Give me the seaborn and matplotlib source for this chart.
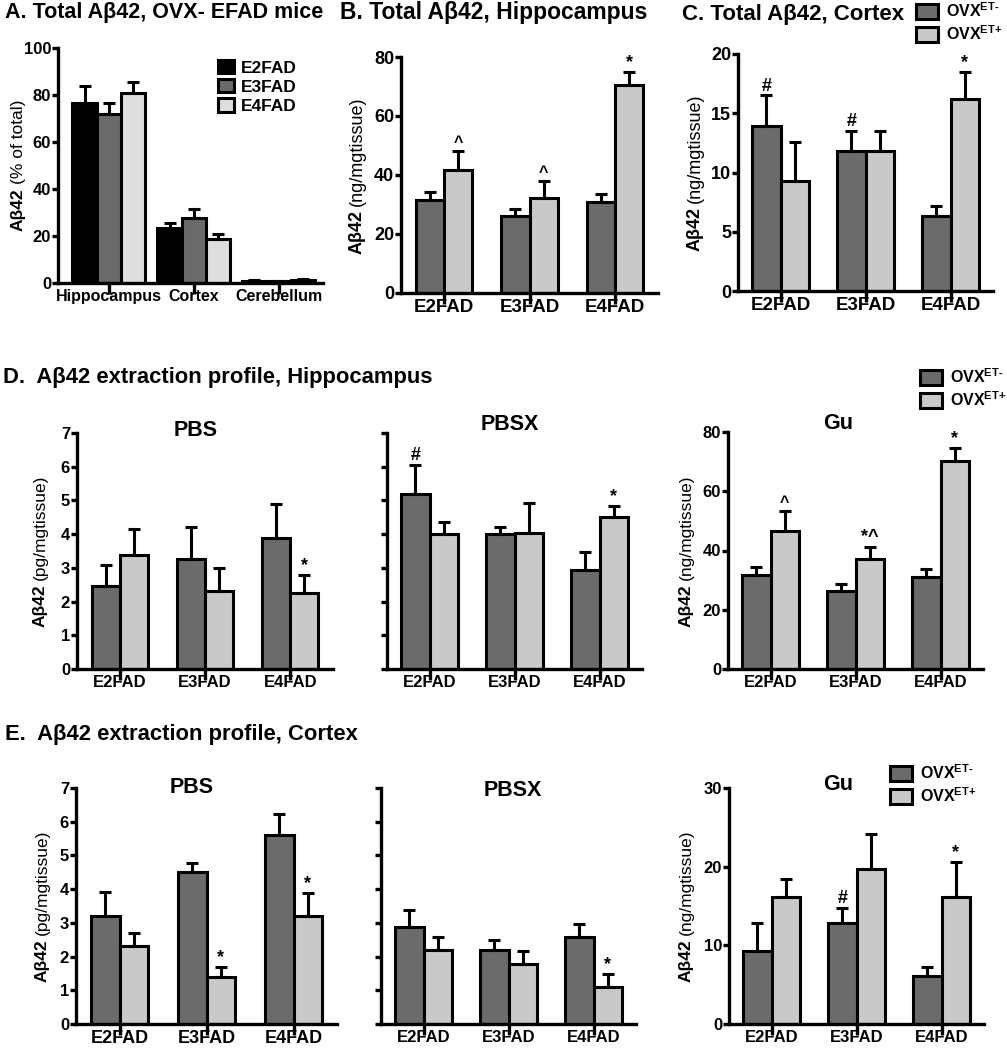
import matplotlib
matplotlib.use("Agg")
import matplotlib.pyplot as plt
from matplotlib.patches import Patch
import seaborn as sns
import pandas as pd

# ---------------- data ----------------
genotypes = ["E2FAD", "E3FAD", "E4FAD"]
groups = ["OVX ET-", "OVX ET+"]
regions = ["Hippocampus", "Cortex", "Cerebellum"]

# A: % of total per region, by genotype
a_e2 = [76.8, 23.3, 1.0]
a_e2_err = [7.2, 2.3, 0.3]
a_e3 = [72.0, 27.8, 0.8]
a_e3_err = [4.5, 3.7, 0.2]
a_e4 = [80.8, 18.6, 1.2]
a_e4_err = [4.6, 2.3, 0.3]

# B: total hippocampus (ng/mg tissue)
b_neg = [31.6, 26.2, 30.8]
b_neg_err = [2.6, 2.3, 2.9]
b_pos = [41.8, 32.2, 70.5]
b_pos_err = [6.4, 5.9, 4.4]
b_marks_neg = ["", "", ""]
b_marks_pos = ["^", "^", "*"]

# C: total cortex (ng/mg tissue)
c_neg = [13.9, 11.8, 6.3]
c_neg_err = [2.6, 1.7, 0.9]
c_pos = [9.3, 11.8, 16.2]
c_pos_err = [3.3, 1.7, 2.3]
c_marks_neg = ["#", "#", ""]
c_marks_pos = ["", "", "*"]

# D: hippocampus extraction profile
d_pbs_neg = [2.45, 3.25, 3.9]
d_pbs_neg_err = [0.63, 0.95, 0.98]
d_pbs_pos = [3.38, 2.32, 2.26]
d_pbs_pos_err = [0.78, 0.68, 0.54]
d_pbs_marks_neg = ["", "", ""]
d_pbs_marks_pos = ["", "", "*"]

d_pbsx_neg = [5.18, 4.0, 2.94]
d_pbsx_neg_err = [0.87, 0.2, 0.54]
d_pbsx_pos = [4.01, 4.04, 4.5]
d_pbsx_pos_err = [0.36, 0.87, 0.33]
d_pbsx_marks_neg = ["#", "", ""]
d_pbsx_marks_pos = ["", "", "*"]

d_gu_neg = [31.6, 26.4, 30.9]
d_gu_neg_err = [2.7, 2.3, 2.8]
d_gu_pos = [46.5, 37.1, 70.3]
d_gu_pos_err = [7.0, 4.2, 4.4]
d_gu_marks_neg = ["", "", ""]
d_gu_marks_pos = ["^", "*^", "*"]

# E: cortex extraction profile
e_pbs_neg = [3.2, 4.5, 5.61]
e_pbs_neg_err = [0.71, 0.27, 0.62]
e_pbs_pos = [2.3, 1.4, 3.2]
e_pbs_pos_err = [0.39, 0.3, 0.7]
e_pbs_marks_neg = ["", "", ""]
e_pbs_marks_pos = ["", "*", "*"]

e_pbsx_neg = [2.87, 2.19, 2.57]
e_pbsx_neg_err = [0.51, 0.31, 0.41]
e_pbsx_pos = [2.19, 1.78, 1.11]
e_pbsx_pos_err = [0.39, 0.38, 0.38]
e_pbsx_marks_neg = ["", "", ""]
e_pbsx_marks_pos = ["", "", "*"]

e_gu_neg = [9.27, 12.8, 6.1]
e_gu_neg_err = [3.6, 2.0, 1.1]
e_gu_pos = [16.1, 19.7, 16.1]
e_gu_pos_err = [2.3, 4.4, 4.5]
e_gu_marks_neg = ["", "#", ""]
e_gu_marks_pos = ["", "", "*"]

# ---------------- style ----------------
DARK = "#6b6b6b"
LIGHT = "#c9c9c9"
A_COLORS = ["#000000", "#6a6a6a", "#dedede"]
LW = 2.2

sns.set_theme(style="ticks", rc={
    "axes.edgecolor": "black", "xtick.color": "black", "ytick.color": "black",
    "text.color": "black", "axes.labelcolor": "black",
})
plt.rcParams["font.family"] = ["Liberation Sans", "DejaVu Sans"]
plt.rcParams["font.weight"] = "bold"
plt.rcParams["mathtext.fontset"] = "custom"
plt.rcParams["mathtext.rm"] = "Liberation Sans:bold"
plt.rcParams["mathtext.bf"] = "Liberation Sans:bold"
plt.rcParams["mathtext.default"] = "bf"

W, H = 1007, 1050
fig = plt.figure(figsize=(W / 100, H / 100), dpi=100)


def add_ax(l, r, t, b):
    return fig.add_axes([l / W, 1 - b / H, (r - l) / W, (b - t) / H])


def style_ax(ax, ymax, yticks, ylabels=True, xlim=(-0.5, 2.5), xsize=12,
             ysize=12):
    ax.set_ylim(0, ymax)
    ax.set_xlim(*xlim)
    ax.set_yticks(yticks)
    if not ylabels:
        ax.set_yticklabels([])
    sns.despine(ax=ax)
    for s in ["left", "bottom"]:
        ax.spines[s].set_linewidth(2.4)
    ax.tick_params(axis="y", length=4.5, width=2.4, pad=0.5, labelsize=ysize)
    ax.tick_params(axis="x", length=8, width=2.4, pad=-3.5, labelsize=xsize)
    ax.set_xlabel("")
    ax.set_ylabel("")


def add_err(ax, series):
    for cont, (vals, errs, marks) in zip(ax.containers, series):
        for bar, v, e, m in zip(cont, vals, errs, marks):
            x = bar.get_x() + bar.get_width() / 2
            ax.errorbar([x], [v], yerr=[[0], [e]], fmt="none", ecolor="black",
                        elinewidth=LW, capsize=4.5, capthick=LW, zorder=3,
                        clip_on=False)
            if m:
                ax.annotate(m, (x, v + e), xytext=(0, 0.5),
                            textcoords="offset points", ha="center", va="bottom",
                            fontsize=13 if m != "^" else 11.5,
                            fontweight="bold", annotation_clip=False)


def pair_panel(ax, neg, neg_err, pos, pos_err, mneg, mpos, ymax, yticks,
               ylabels=True, xsize=12, ysize=12):
    df = pd.DataFrame({
        "genotype": genotypes * 2,
        "group": [groups[0]] * 3 + [groups[1]] * 3,
        "value": neg + pos,
    })
    sns.barplot(data=df, x="genotype", y="value", hue="group", order=genotypes,
                hue_order=groups, palette=[DARK, LIGHT], width=0.66,
                edgecolor="black", linewidth=LW, errorbar=None, legend=False,
                saturation=1, ax=ax)
    style_ax(ax, ymax, yticks, ylabels, xsize=xsize, ysize=ysize)
    add_err(ax, [(neg, neg_err, mneg), (pos, pos_err, mpos)])


# ---------------- panel A ----------------
axA = add_ax(58, 323, 48, 283)
dfA = pd.DataFrame({
    "region": regions * 3,
    "genotype": [genotypes[0]] * 3 + [genotypes[1]] * 3 + [genotypes[2]] * 3,
    "value": a_e2 + a_e3 + a_e4,
})
sns.barplot(data=dfA, x="region", y="value", hue="genotype", order=regions,
            hue_order=genotypes, palette=A_COLORS, width=0.86, edgecolor="black",
            linewidth=LW, errorbar=None, legend=False, saturation=1, ax=axA)
style_ax(axA, 100, [0, 20, 40, 60, 80, 100], xlim=(-0.6, 2.52), xsize=11.5)
add_err(axA, [(a_e2, a_e2_err, [""] * 3), (a_e3, a_e3_err, [""] * 3),
              (a_e4, a_e4_err, [""] * 3)])

# ---------------- panels B, C ----------------
axB = add_ax(401, 658, 57, 293)
pair_panel(axB, b_neg, b_neg_err, b_pos, b_pos_err, b_marks_neg, b_marks_pos,
           80, [0, 20, 40, 60, 80], xsize=13.5, ysize=13)
axC = add_ax(738, 993, 54, 291)
pair_panel(axC, c_neg, c_neg_err, c_pos, c_pos_err, c_marks_neg, c_marks_pos,
           20, [0, 5, 10, 15, 20], xsize=13.5, ysize=13)

# ---------------- panel D ----------------
axD1 = add_ax(77, 333, 433, 669)
pair_panel(axD1, d_pbs_neg, d_pbs_neg_err, d_pbs_pos, d_pbs_pos_err,
           d_pbs_marks_neg, d_pbs_marks_pos, 7, list(range(8)))
axD2 = add_ax(387, 642, 433, 669)
pair_panel(axD2, d_pbsx_neg, d_pbsx_neg_err, d_pbsx_pos, d_pbsx_pos_err,
           d_pbsx_marks_neg, d_pbsx_marks_pos, 7, list(range(8)), ylabels=False)
axD3 = add_ax(728, 983, 432, 669)
pair_panel(axD3, d_gu_neg, d_gu_neg_err, d_gu_pos, d_gu_pos_err,
           d_gu_marks_neg, d_gu_marks_pos, 80, [0, 20, 40, 60, 80])

# ---------------- panel E ----------------
axE1 = add_ax(76, 337, 788, 1024)
pair_panel(axE1, e_pbs_neg, e_pbs_neg_err, e_pbs_pos, e_pbs_pos_err,
           e_pbs_marks_neg, e_pbs_marks_pos, 7, list(range(8)), xsize=13)
axE2 = add_ax(381, 636, 788, 1024)
pair_panel(axE2, e_pbsx_neg, e_pbsx_neg_err, e_pbsx_pos, e_pbsx_pos_err,
           e_pbsx_marks_neg, e_pbsx_marks_pos, 7, list(range(8)), ylabels=False)
axE3 = add_ax(729, 984, 788, 1024)
pair_panel(axE3, e_gu_neg, e_gu_neg_err, e_gu_pos, e_gu_pos_err,
           e_gu_marks_neg, e_gu_marks_pos, 30, [0, 10, 20, 30])

# ---------------- titles ----------------
def ftext(x, y, s, size, ha="left", weight="bold"):
    fig.text(x / W, 1 - y / H, s, fontsize=size, ha=ha, va="baseline",
             fontweight=weight)


ftext(5, 18, "A. Total Aβ42, OVX- EFAD mice", 15.5)
ftext(340, 19, "B. Total Aβ42, Hippocampus", 16.5)
ftext(682, 20, "C. Total Aβ42, Cortex", 16)
ftext(3, 383, "D.  Aβ42 extraction profile, Hippocampus", 15.8)
ftext(5, 740, "E.  Aβ42 extraction profile, Cortex", 15.8)
ftext(196, 436, "PBS", 15.5, ha="center")
ftext(510, 430, "PBSX", 15.5, ha="center")
ftext(838, 429, "Gu", 15.5, ha="center")
ftext(192, 793, "PBS", 15.5, ha="center")
ftext(513, 796, "PBSX", 15.5, ha="center")
ftext(838, 790, "Gu", 15.5, ha="center")

# ---------------- y labels (bold + regular parts) ----------------
fig.canvas.draw()
renderer = fig.canvas.get_renderer()


def ylabel2(ax, x_px, rest, size=12.5, gap_px=4):
    t1 = fig.text(0, 0, "Aβ42", fontsize=size, fontweight="bold", rotation=90,
                  rotation_mode="anchor", ha="left", va="baseline")
    t2 = fig.text(0, 0, rest, fontsize=size, fontweight="normal", rotation=90,
                  rotation_mode="anchor", ha="left", va="baseline")
    w1 = t1.get_window_extent(renderer).height
    w2 = t2.get_window_extent(renderer).height
    pos = ax.get_position()
    cy = (pos.y0 + pos.y1) / 2 * H
    total = w1 + gap_px + w2
    y0 = cy - total / 2
    t1.set_position((x_px / W, y0 / H))
    t2.set_position((x_px / W, (y0 + w1 + gap_px) / H))


ylabel2(axA, 23, "(% of total)")
ylabel2(axB, 362, "(ng/mgtissue)", size=13)
ylabel2(axC, 700, "(ng/mgtissue)", size=13)
ylabel2(axD1, 45, "(pg/mgtissue)")
ylabel2(axD3, 691, "(ng/mgtissue)")
ylabel2(axE1, 47, "(pg/mgtissue)")
ylabel2(axE3, 691, "(ng/mgtissue)")

# ---------------- legends ----------------
def legend_at(labels, colors, x_px, y_px, size, hl, hh, spacing, pad=0.4):
    handles = [Patch(facecolor=c, edgecolor="black", linewidth=LW) for c in colors]
    fig.legend(handles, labels, loc="upper left",
               bbox_to_anchor=(x_px / W, 1 - y_px / H),
               bbox_transform=fig.transFigure, frameon=False, fontsize=size,
               handlelength=hl, handleheight=hh, handletextpad=pad,
               labelspacing=spacing, borderpad=0, borderaxespad=0)


ovx_labels = [r"OVX$^{\text{ET-}}$", r"OVX$^{\text{ET+}}$"]
legend_at(genotypes, A_COLORS, 218, 60, 12.5, 0.9, 0.8, 0.2)
legend_at(ovx_labels, [DARK, LIGHT], 916, 1, 11.5, 1.4, 1.05, 0.3, 0.5)
legend_at(ovx_labels, [DARK, LIGHT], 920, 367, 11.5, 1.4, 1.05, 0.3, 0.5)
legend_at(ovx_labels, [DARK, LIGHT], 890, 763, 11.5, 1.4, 1.05, 0.3, 0.5)

fig.savefig("out.png", dpi=100)
